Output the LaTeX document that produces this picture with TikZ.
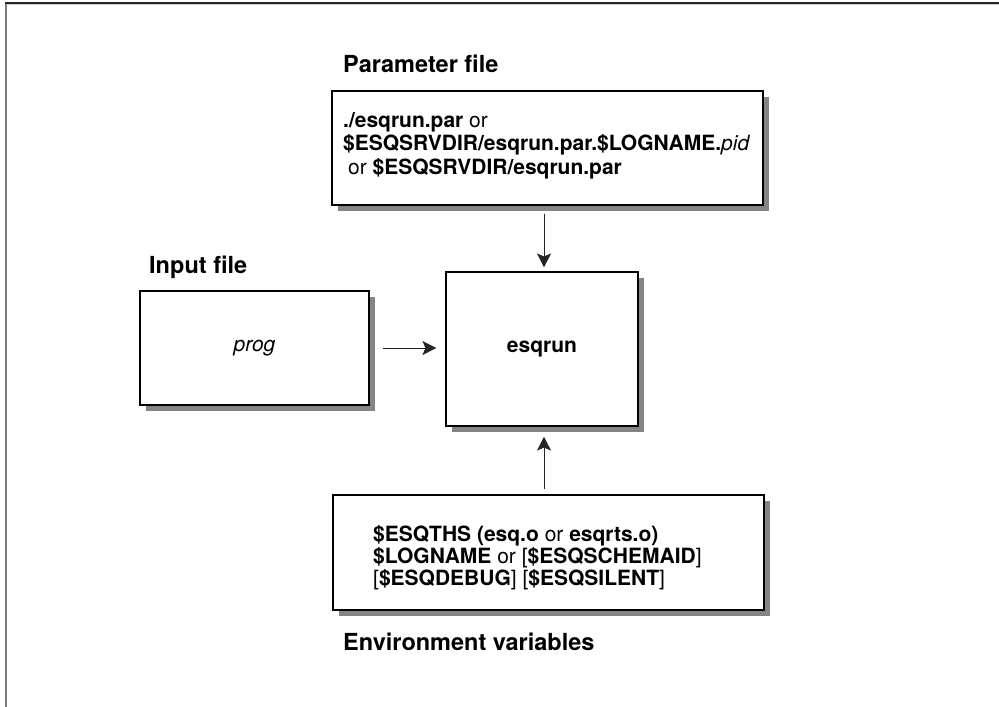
\documentclass[tikz,border=0pt]{standalone}
\usepackage{fontspec}
\setmainfont{TeX Gyre Heros}
\usetikzlibrary{arrows.meta}
\definecolor{shadowgray}{HTML}{858585}
\definecolor{framegray}{HTML}{7A7A7A}
\begin{document}
\begin{tikzpicture}[x=1pt,y=-1pt,
  box/.style={draw=black,line width=1.1pt,fill=white,inner sep=0pt},
  shadowbox/.style={fill=shadowgray,draw=none,inner sep=0pt},
  boxtext/.style={font=\fontsize{21}{25}\selectfont,inner sep=0pt},
  label/.style={font=\fontsize{23.5}{28}\selectfont\bfseries,inner sep=0pt,anchor=base west},
  line/.style={inner sep=0pt,anchor=base west,font=\fontsize{21}{25}\selectfont},
  arr/.style={draw=black!85,line width=0.9pt,-{Stealth[length=14pt,width=14pt,inset=3pt]}}]
\useasboundingbox (0,0) rectangle (999,707);
% frame
\draw[framegray,line width=2pt] (6,3) -- (6,707);
\draw[black!85,line width=1.6pt] (5,3) -- (999,3);
\draw[black!20,line width=0.8pt] (7,4.8) -- (999,4.8);

% drop shadows, offset 5 right and 5 down
\node[shadowbox,minimum width=431pt,minimum height=114pt] (par-sh) at (553,153.5) {};
\node[shadowbox,minimum width=229pt,minimum height=114pt] (inp-sh) at (260,353.5) {};
\node[shadowbox,minimum width=192pt,minimum height=154pt] (esq-sh) at (547.5,354.5) {};
\node[shadowbox,minimum width=431pt,minimum height=115pt] (env-sh) at (554,558) {};

% boxes
\node[box,minimum width=431pt,minimum height=114pt] (par) at (547.5,148) {};
\node[box,minimum width=229pt,minimum height=114pt] (inp) at (254.5,348) {};
\node[box,minimum width=192pt,minimum height=154pt] (esq) at (542,349) {};
\node[box,minimum width=431pt,minimum height=115pt] (env) at (548.5,552.5) {};

% contents
\node[boxtext] (esqname) at (esq.center) {\bfseries esqrun};
\node[boxtext] (progname) at (inp.center) {\itshape prog};

\node[line] (par1) at (343,127) {\textbf{./esqrun.par} or};
\node[line] (par2) at (343,150.5) {\textbf{\$ESQSRVDIR/esqrun.par.\$LOGNAME.}\textit{pid}};
\node[line] (par3) at (343,174) {\hspace{5pt}or \textbf{\$ESQSRVDIR/esqrun.par}};

\node[line] (env1) at (373,541) {\textbf{\$ESQTHS (esq.o} or \textbf{esqrts.o)}};
\node[line] (env2) at (373,563) {\textbf{\$LOGNAME} or [\textbf{\$ESQSCHEMAID}]};
\node[line] (env3) at (373,585) {[\textbf{\$ESQDEBUG}] [\textbf{\$ESQSILENT}]};

% labels
\node[label] (parlabel) at (343,72) {Parameter file};
\node[label] (inplabel) at (149,273) {Input file};
\node[label] (envlabel) at (343,650) {Environment variables};

% connectors
\draw[arr,shorten <=8pt,shorten >=4pt] ([xshift=2pt]par.south -| esq.north) -- ([xshift=2pt]esq.north);
\draw[arr,shorten <=13pt,shorten >=9pt] (inp.east) -- (inp.east -| esq.west);
\draw[arr,shorten <=5pt,shorten >=10pt] ([xshift=2pt]env.north -| esq.south) -- ([xshift=2pt]esq.south);
\end{tikzpicture}
\end{document}
